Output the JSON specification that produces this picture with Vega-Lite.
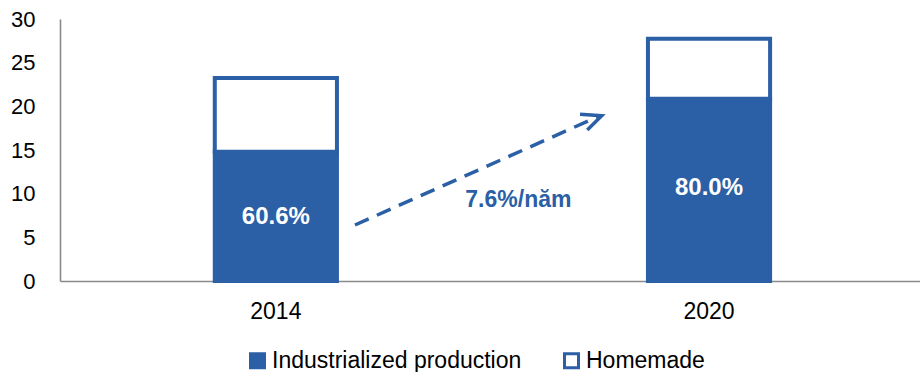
{
  "$schema": "https://vega.github.io/schema/vega-lite/v6.json",
  "autosize": {"type": "none"},
  "width": 860,
  "height": 262,
  "padding": {"left": 60, "top": 19, "right": 0, "bottom": 91},
  "background": "white",
  "config": {
    "view": {"stroke": null},
    "font": "Liberation Sans",
    "axis": {"grid": false, "ticks": false, "tickSize": 0, "domainColor": "#8a8a8a", "domainWidth": 1.6, "labelColor": "#000000", "labelFont": "Liberation Sans", "title": null},
    "axisX": {"labelFontSize": 23, "labelPadding": 19, "labelAngle": 0},
    "axisY": {"labelFontSize": 22, "labelPadding": 25},
    "legend": {"labelFont": "Liberation Sans"}
  },
  "datasets": {
    "bars": [
      {"year": "2014", "type": "Industrialized production", "order": 1, "value": 14.8},
      {"year": "2014", "type": "Homemade", "order": 2, "value": 8.45},
      {"year": "2020", "type": "Industrialized production", "order": 1, "value": 20.87},
      {"year": "2020", "type": "Homemade", "order": 2, "value": 6.88}
    ],
    "labels": [
      {"year": "2014", "pos": 7.33, "label": "60.6%"},
      {"year": "2020", "pos": 10.6, "label": "80.0%"}
    ],
    "arrowLine": [
      {"i": 1, "px": 0.343, "py": 6.41},
      {"i": 2, "px": 0.6267, "py": 18.87}
    ],
    "arrowHead": [
      {"i": 1, "px": 0.6047, "py": 19.09},
      {"i": 2, "px": 0.6299, "py": 18.93},
      {"i": 3, "px": 0.6131, "py": 17.29}
    ],
    "note": [
      {"px": 0.533, "py": 9.28, "text": "7.6%/năm"}
    ]
  },
  "layer": [
    {
      "layer": [
        {
          "data": {"name": "bars"},
          "mark": {"type": "bar", "stroke": "#2B5FA6", "strokeWidth": 4},
          "encoding": {
            "x": {"field": "year", "type": "nominal", "title": null, "scale": {"paddingInner": 0.718, "paddingOuter": 0.3517, "align": 0.508}},
            "y": {"field": "value", "type": "quantitative", "stack": "zero", "title": null, "scale": {"domain": [0, 30], "nice": false}, "axis": {"values": [0, 5, 10, 15, 20, 25, 30]}},
            "color": {
              "field": "type", "type": "nominal",
              "scale": {"domain": ["Industrialized production", "Homemade"], "range": ["#2B5FA6", "#FFFFFF"]},
              "legend": {
                "title": null, "orient": "none", "legendX": 186, "legendY": 330, "direction": "horizontal",
                "symbolType": "square", "symbolSize": 196, "symbolStrokeColor": "#2B5FA6", "symbolStrokeWidth": 3,
                "labelFontSize": 23, "labelColor": "#000000", "labelLimit": 600, "columnPadding": 36, "labelOffset": 3, "padding": 0
              }
            },
            "order": {"field": "order", "type": "quantitative"}
          }
        },
        {
          "data": {"name": "labels"},
          "mark": {"type": "text", "color": "#FFFFFF", "fontWeight": "bold", "fontSize": 24, "font": "Liberation Sans"},
          "encoding": {
            "x": {"field": "year", "type": "nominal", "title": null},
            "y": {"field": "pos", "type": "quantitative", "title": null},
            "text": {"field": "label"}
          }
        }
      ]
    },
    {
      "layer": [
        {
          "data": {"name": "arrowLine"},
          "mark": {"type": "line", "color": "#2B5FA6", "strokeWidth": 3.5, "strokeDash": [15, 9]},
          "encoding": {
            "x": {"field": "px", "type": "quantitative", "scale": {"domain": [0, 1], "nice": false}, "axis": null},
            "y": {"field": "py", "type": "quantitative", "title": null},
            "order": {"field": "i", "type": "quantitative"}
          }
        },
        {
          "data": {"name": "arrowHead"},
          "mark": {"type": "line", "color": "#2B5FA6", "strokeWidth": 3.5, "strokeJoin": "miter"},
          "encoding": {
            "x": {"field": "px", "type": "quantitative", "axis": null},
            "y": {"field": "py", "type": "quantitative", "title": null},
            "order": {"field": "i", "type": "quantitative"}
          }
        },
        {
          "data": {"name": "note"},
          "mark": {"type": "text", "color": "#2B5FA6", "fontWeight": "bold", "fontSize": 23, "font": "Liberation Sans"},
          "encoding": {
            "x": {"field": "px", "type": "quantitative", "axis": null},
            "y": {"field": "py", "type": "quantitative", "title": null},
            "text": {"field": "text"}
          }
        }
      ]
    }
  ],
  "resolve": {"scale": {"x": "independent"}}
}
